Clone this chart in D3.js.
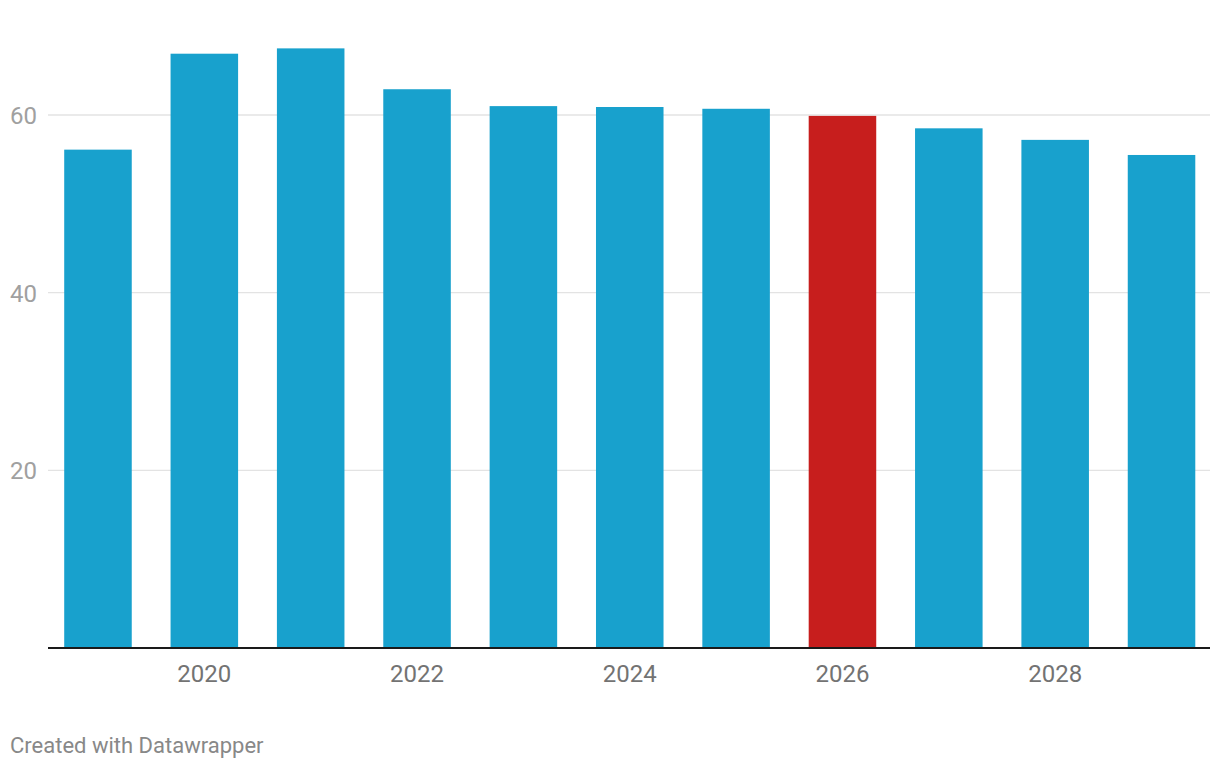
<!DOCTYPE html>
<html>
<head>
<meta charset="utf-8">
<script src="https://cdn.jsdelivr.net/npm/d3@7"></script>
<style>
  html, body { margin: 0; padding: 0; background: #fff; }
  svg { display: block; font-family: Roboto, sans-serif; }
</style>
</head>
<body>
<svg id="chart" width="1220" height="770"></svg>
<script>
const years = [2019, 2020, 2021, 2022, 2023, 2024, 2025, 2026, 2027, 2028, 2029];
const values = [56.1, 66.9, 67.5, 62.9, 61.0, 60.9, 60.7, 59.9, 58.5, 57.2, 55.5];
const highlightYear = 2026;
const yTicks = [20, 40, 60];
const xTicks = [2020, 2022, 2024, 2026, 2028];

const svg = d3.select("#chart");
const x = d3.scaleBand().domain(years).range([44.8, 1214.7]).paddingInner(0.365).paddingOuter(0.1825);
const y = d3.scaleLinear().domain([0, 60]).range([648, 115]);

// gridlines
svg.append("g").selectAll("line").data(yTicks).join("line")
  .attr("x1", 48).attr("x2", 1210)
  .attr("y1", d => y(d)).attr("y2", d => y(d))
  .attr("stroke", "#e3e3e3").attr("stroke-width", 1.3);

// y labels
const yAxis = d3.axisLeft(y).tickValues(yTicks).tickSize(0).tickPadding(0);
const gy = svg.append("g").attr("transform", "translate(10,0)").call(yAxis);
gy.select(".domain").remove();
gy.selectAll("text").attr("text-anchor", "start").attr("x", 0).attr("dy", "0.355em")
  .attr("fill", "#a0a0a0").style("font-size", "24px").style("font-family", "Roboto, sans-serif");

// bars
svg.append("g").selectAll("rect").data(years).join("rect")
  .attr("x", d => x(d))
  .attr("width", x.bandwidth())
  .attr("y", (d, i) => y(values[i]))
  .attr("height", (d, i) => y(0) - y(values[i]))
  .attr("fill", d => d === highlightYear ? "#c71e1d" : "#18a1cd");

// baseline
svg.append("line").attr("x1", 48).attr("x2", 1210).attr("y1", 648).attr("y2", 648)
  .attr("stroke", "#1a1a1a").attr("stroke-width", 2);

// x axis labels
const xAxis = d3.axisBottom(x).tickValues(xTicks).tickSize(0).tickPadding(0);
const gx = svg.append("g").attr("transform", "translate(0,648)").call(xAxis);
gx.select(".domain").remove();
gx.selectAll("text").attr("y", 34.3).attr("dy", 0)
  .attr("fill", "#737373").style("font-size", "24px").style("font-family", "Roboto, sans-serif");

// footer
svg.append("text").attr("x", 10).attr("y", 753)
  .attr("fill", "#888").style("font-size", "22px").style("font-family", "Roboto, sans-serif")
  .text("Created with Datawrapper");
</script>
</body>
</html>
